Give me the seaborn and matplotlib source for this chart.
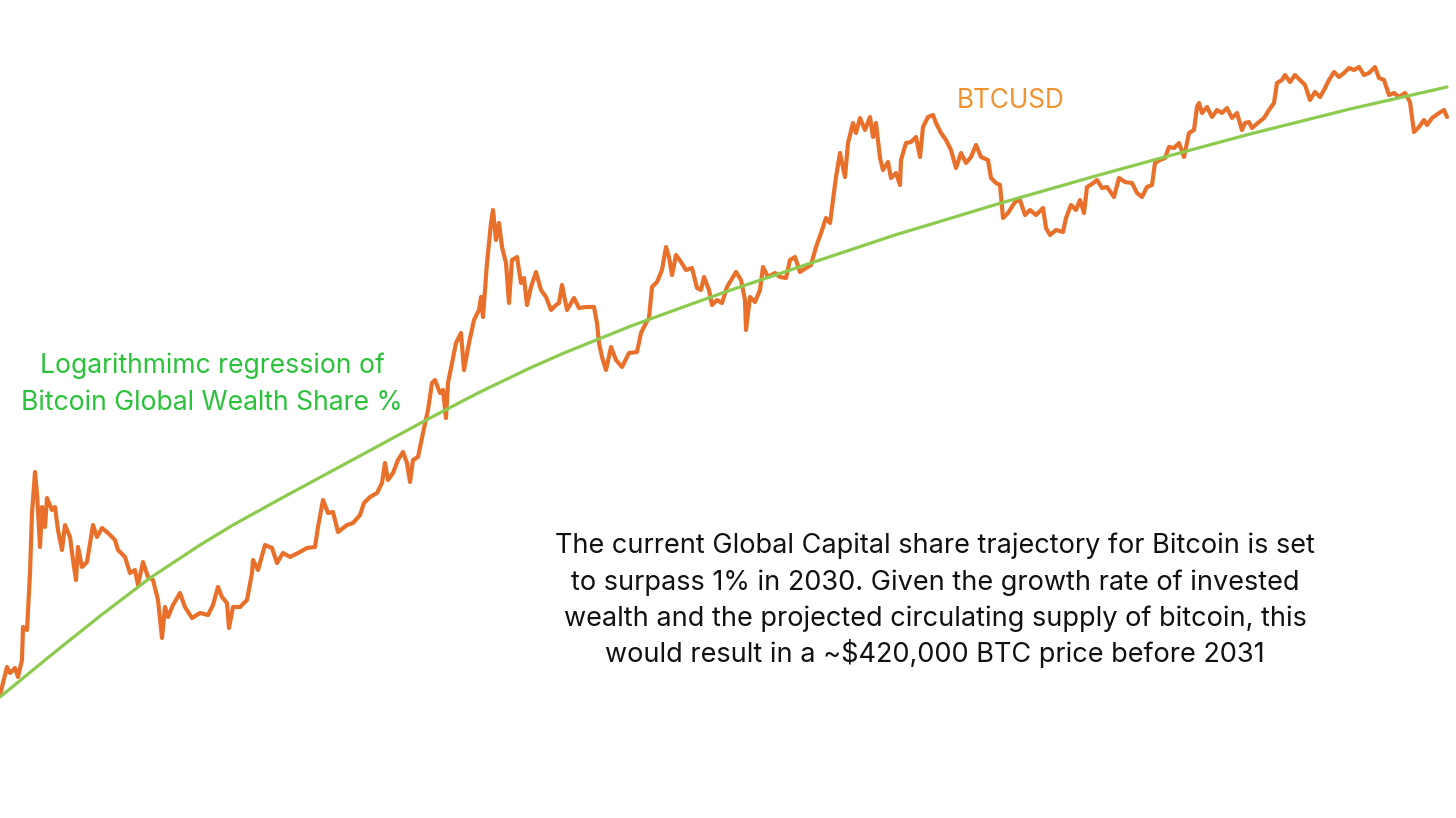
import numpy as np
import pandas as pd
import matplotlib
matplotlib.use("Agg")
import matplotlib.pyplot as plt
import seaborn as sns

# BTCUSD trace (time index, price level on an arbitrary linear scale)
btc_t = [0, 7, 10, 15, 18, 22, 23, 27, 30, 32, 35, 37, 40, 42, 45, 47, 52, 55, 58, 62,
         65, 70, 73, 76, 78, 82, 87, 93, 97, 102, 108, 115, 118, 125, 130, 135, 138, 143, 148, 153,
         158, 162, 165, 168, 173, 180, 185, 192, 200, 208, 213, 218, 222, 227, 229, 233, 240, 247, 252, 253,
         258, 265, 272, 277, 283, 290, 298, 307, 315, 318, 323, 328, 333, 338, 347, 353, 360, 364, 370, 377,
         382, 385, 388, 393, 398, 403, 407, 410, 413, 418, 423, 428, 432, 435, 440, 443, 446, 448, 452, 456,
         461, 464, 469, 474, 479, 481, 483, 487, 491, 493, 496, 499, 502, 506, 509, 512, 517, 521, 524, 527,
         531, 536, 541, 546, 551, 556, 559, 562, 567, 574, 579, 586, 594, 597, 599, 602, 606, 611, 616, 622,
         629, 637, 641, 646, 649, 652, 657, 662, 666, 669, 672, 676, 681, 686, 692, 697, 701, 704, 709, 712,
         717, 722, 727, 736, 741, 745, 746, 750, 755, 760, 763, 768, 775, 780, 786, 790, 795, 800, 806, 811,
         816, 821, 826, 830, 833, 836, 840, 845, 848, 853, 856, 860, 865, 870, 873, 876, 880, 883, 888, 891,
         896, 900, 901, 906, 911, 916, 920, 923, 928, 933, 936, 941, 946, 951, 956, 961, 966, 971, 976, 981,
         988, 991, 996, 1000, 1003, 1008, 1015, 1020, 1025, 1030, 1036, 1043, 1046, 1050, 1056, 1063, 1066, 1071, 1076, 1080,
         1084, 1087, 1092, 1097, 1102, 1107, 1114, 1119, 1125, 1132, 1137, 1142, 1147, 1152, 1155, 1160, 1165, 1169, 1174, 1179,
         1184, 1189, 1194, 1197, 1199, 1202, 1207, 1212, 1217, 1222, 1227, 1232, 1237, 1242, 1245, 1249, 1252, 1259, 1264, 1269,
         1274, 1277, 1282, 1285, 1290, 1295, 1300, 1305, 1310, 1315, 1320, 1324, 1329, 1334, 1339, 1344, 1349, 1354, 1359, 1364,
         1369, 1375, 1379, 1384, 1389, 1394, 1399, 1405, 1410, 1414, 1419, 1424, 1427, 1432, 1439, 1444, 1447]
btc_v = [123, 151, 145, 150, 141, 158, 191, 188, 245, 305, 346, 325, 271, 311, 291, 320, 308, 311, 288, 268,
         293, 281, 258, 238, 271, 251, 256, 293, 281, 290, 285, 278, 268, 261, 245, 248, 233, 256, 241, 238,
         218, 180, 211, 201, 213, 225, 211, 200, 205, 203, 213, 231, 221, 215, 190, 211, 211, 218, 245, 258,
         248, 273, 270, 255, 265, 261, 265, 270, 271, 291, 318, 305, 306, 286, 293, 295, 303, 315, 321, 325,
         335, 355, 338, 345, 358, 366, 355, 336, 358, 361, 385, 408, 435, 438, 425, 428, 400, 435, 455, 475,
         485, 448, 475, 498, 508, 521, 501, 555, 595, 608, 578, 595, 571, 555, 515, 558, 561, 535, 540, 513,
         531, 546, 528, 521, 508, 513, 515, 533, 508, 520, 510, 511, 511, 495, 475, 461, 448, 471, 458, 451,
         465, 466, 485, 495, 500, 531, 536, 548, 571, 561, 543, 563, 556, 548, 550, 530, 528, 541, 528, 513,
         518, 515, 531, 546, 538, 518, 488, 521, 516, 528, 551, 541, 545, 541, 540, 558, 561, 546, 550, 553,
         571, 585, 600, 595, 618, 641, 665, 641, 675, 695, 685, 700, 688, 701, 681, 695, 660, 648, 656, 640,
         645, 633, 658, 675, 676, 681, 661, 691, 701, 703, 695, 685, 678, 668, 650, 665, 655, 661, 673, 661,
         658, 640, 635, 633, 600, 605, 616, 618, 603, 608, 603, 610, 590, 583, 588, 586, 600, 613, 608, 618,
         605, 631, 634, 638, 630, 631, 621, 640, 636, 635, 625, 621, 631, 633, 655, 658, 660, 671, 670, 675,
         661, 685, 688, 711, 715, 705, 711, 701, 708, 705, 710, 700, 705, 688, 695, 696, 690, 696, 700, 708,
         715, 735, 738, 743, 736, 743, 738, 733, 718, 726, 721, 728, 738, 746, 741, 745, 750, 748, 751, 743,
         745, 751, 740, 738, 723, 725, 721, 725, 716, 686, 691, 698, 693, 700, 705, 708, 701]

# logarithmic regression of bitcoin's global wealth share
reg_t = [0, 50, 100, 150, 200, 233, 280, 330, 380, 430, 480, 530, 564, 631, 697, 728,
         811, 895, 1001, 1092, 1150, 1250, 1350, 1447]
reg_v = [121, 162, 202, 240, 273, 293, 319, 346, 373, 400, 426, 450, 465, 492, 516, 527,
         555, 583, 615, 641, 657, 684, 709, 731]

note_lines = [
    "The current Global Capital share trajectory for Bitcoin is set",
    "to surpass 1% in 2030. Given the growth rate of invested",
    "wealth and the projected circulating supply of bitcoin, this",
    "would result in a ~$420,000 BTC price before 2031",
]

df_btc = pd.DataFrame({"t": btc_t, "price": btc_v})
df_reg = pd.DataFrame({"t": reg_t, "share": reg_v})

sns.set_style("white")
plt.rcParams["font.family"] = ["Inter", "DejaVu Sans"]

fig = plt.figure(figsize=(14.56, 8.18), dpi=100)
ax = fig.add_axes([0, 0, 1, 1])

sns.lineplot(data=df_btc, x="t", y="price", ax=ax, color="#E8702A", linewidth=3.0,
             estimator=None, sort=False, zorder=2)
sns.lineplot(data=df_reg, x="t", y="share", ax=ax, color="#8CCB4F", linewidth=2.3,
             estimator=None, sort=False, zorder=3)

ax.set_xlim(0, 1456)
ax.set_ylim(0, 818)
ax.axis("off")

# annotations
ax.text(212, 445, "Logarithmimc regression of", color="#2BC23B", fontsize=19.1,
        ha="center", va="baseline")
ax.text(212, 408, "Bitcoin Global Wealth Share %", color="#2BC23B", fontsize=19.1,
        ha="center", va="baseline")
ax.text(1011, 710, "BTCUSD", color="#F0922B", fontsize=18.8, ha="center", va="baseline")

for i, line in enumerate(note_lines):
    ax.text(935, 265 - i * 36.5, line, color="#111111", fontsize=19.5,
            ha="center", va="baseline")

plt.savefig("out.png", dpi=100, facecolor="white")
